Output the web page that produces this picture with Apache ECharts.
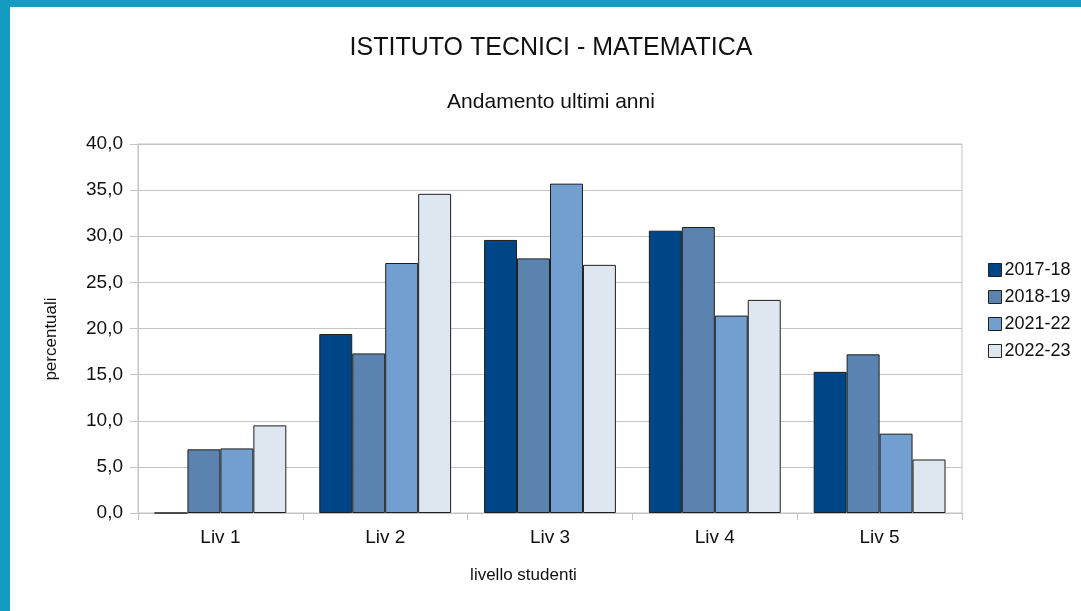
<!DOCTYPE html>
<html>
<head>
<meta charset="utf-8">
<script src="https://cdn.jsdelivr.net/npm/echarts@6/dist/echarts.min.js"></script>
<style>
  html, body { margin: 0; padding: 0; width: 1081px; height: 611px; background: #139cc0; overflow: hidden; }
  #chart { position: absolute; left: 10px; top: 7px; width: 1071px; height: 604px; background: #fff; }
</style>
</head>
<body>
<div id="chart"></div>
<script>
  // livelli sull'asse x
  var categories = ['Liv 1', 'Liv 2', 'Liv 3', 'Liv 4', 'Liv 5']
  var years = ['2017-18', '2018-19', '2021-22', '2022-23']
  // percentuali per anno
  var v2017 = [0.0, 19.4, 29.6, 30.6, 15.3]
  var v2018 = [6.9, 17.3, 27.6, 31.0, 17.2]
  var v2021 = [7.0, 27.1, 35.7, 21.4, 8.6]
  var v2022 = [9.5, 34.6, 26.9, 23.1, 5.8]
  var yTicks = { min: 0, max: 40, interval: 5 }

  var colors = ['#004586', '#5a83b0', '#729fcf', '#dee6ef']
  var values = [v2017, v2018, v2021, v2022]
  var font = 'Liberation Sans'

  var chart = echarts.init(document.getElementById('chart'))

  chart.setOption({
    animation: false,
    textStyle: { fontFamily: font },
    // titoli come testo libero, centrati sul grafico e non sul riquadro
    graphic: [
      {
        type: 'text',
        x: 541,
        y: 41,
        style: {
          text: 'ISTITUTO TECNICI - MATEMATICA',
          fontSize: 25,
          fontFamily: font,
          fill: '#111',
          align: 'center',
          verticalAlign: 'middle'
        }
      },
      {
        type: 'text',
        x: 541,
        y: 95,
        style: {
          text: 'Andamento ultimi anni',
          fontSize: 21,
          fontFamily: font,
          fill: '#111',
          align: 'center',
          verticalAlign: 'middle'
        }
      }
    ],
    grid: {
      left: 128,
      top: 137,
      right: 119,
      bottom: 98,
      show: true,
      borderColor: '#c4c4c4',
      borderWidth: 1
    },
    legend: {
      orient: 'vertical',
      left: 978,
      top: 254,
      padding: 0,
      itemWidth: 13,
      itemHeight: 13,
      itemGap: 9,
      icon: 'rect',
      data: years,
      itemStyle: { borderColor: '#222', borderWidth: 1 },
      textStyle: { fontSize: 18, lineHeight: 18, color: '#111', fontFamily: font, padding: [0, 0, 0, -2] }
    },
    xAxis: {
      type: 'category',
      data: categories,
      name: 'livello studenti',
      nameLocation: 'middle',
      nameGap: 54,
      nameTextStyle: { fontSize: 17, color: '#111', padding: [0, 53, 0, 0] },
      axisLine: { lineStyle: { color: '#c4c4c4', width: 1 } },
      axisTick: { show: true, length: 7, lineStyle: { color: '#c4c4c4' } },
      axisLabel: { fontSize: 19, color: '#111', margin: 15 }
    },
    yAxis: {
      type: 'value',
      min: yTicks.min,
      max: yTicks.max,
      interval: yTicks.interval,
      name: 'percentuali',
      nameLocation: 'middle',
      nameGap: 78,
      nameTextStyle: { fontSize: 17, color: '#111', padding: [0, 21, 0, 0] },
      axisLine: { show: true, lineStyle: { color: '#c4c4c4', width: 1 } },
      axisTick: { show: true, length: 8, lineStyle: { color: '#c4c4c4' } },
      axisLabel: {
        fontSize: 19,
        color: '#111',
        margin: 15,
        formatter: function (v) { return v.toFixed(1).replace('.', ',') }
      },
      splitLine: { lineStyle: { color: '#c4c4c4', width: 1 } }
    },
    series: years.map(function (y, i) {
      return {
        name: y,
        type: 'bar',
        data: values[i],
        barGap: '0%',
        barCategoryGap: '20%',
        itemStyle: { color: colors[i], borderColor: '#1e1e1e', borderWidth: 1 }
      }
    })
  })
</script>
</body>
</html>
